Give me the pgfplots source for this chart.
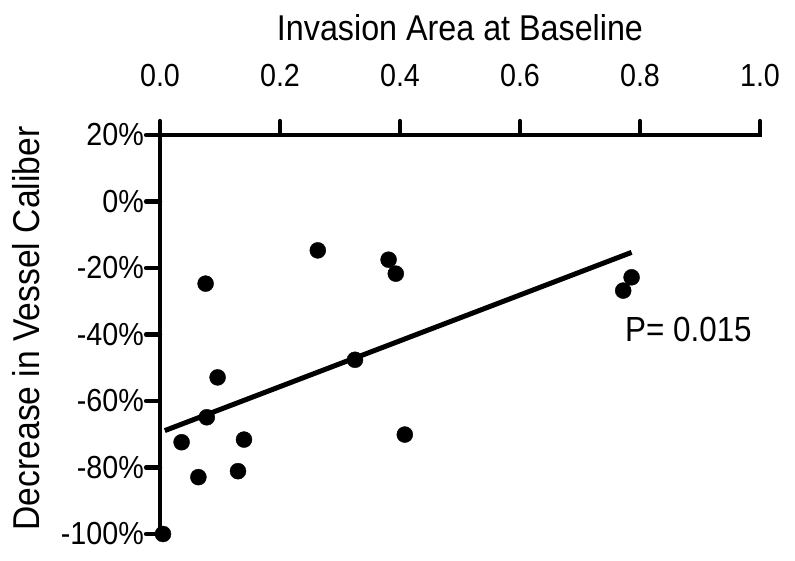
\documentclass[border=0pt]{standalone}
\usepackage{pgfplots}
\pgfplotsset{compat=1.18}
\usepackage{fontspec}
\setmainfont{Liberation Sans}[FakeStretch=0.9]
\begin{document}
\begin{tikzpicture}
\begin{axis}[
  at={(0,0)}, anchor=south west,
  scale only axis, width=600bp, height=399bp,
  xmin=0, xmax=1, ymin=-100, ymax=20,
  axis x line*=top, axis y line*=left,
  axis line style={line width=4.6bp, -, line cap=rect},
  every tick/.style={line width=4.2bp, black, line cap=round},
  tick align=outside, major tick length=14bp,
  xtick={0,0.2,0.4,0.6,0.8,1.0},
  xticklabels={0.0,0.2,0.4,0.6,0.8,1.0},
  ytick={-100,-80,-60,-40,-20,0,20},
  yticklabels={-100\%,-80\%,-60\%,-40\%,-20\%,0\%,20\%},
  ticklabel style={font=\fontsize{32}{38}\selectfont, inner sep=2bp},
  xticklabel style={anchor=base, yshift=34bp},
  xlabel={Invasion Area at Baseline},
  ylabel={Decrease in Vessel Caliber},
  xlabel style={font=\fontsize{36}{42}\selectfont, at={(axis description cs:0.5,1.2356)}, anchor=base},
  ylabel style={font=\fontsize{37.5}{42}\selectfont, at={(axis description cs:-0.2,0.515)}, anchor=base},
  clip=false,
]
\addplot[only marks, mark=*, mark size=8bp, black] coordinates {
(0.005,-100) (0.036,-72.4) (0.064,-82.9) (0.076,-24.7) (0.078,-64.9)
(0.096,-52.9) (0.130,-81.1) (0.140,-71.6) (0.263,-14.7) (0.325,-47.6)
(0.381,-17.5) (0.393,-21.7) (0.408,-70.1) (0.772,-26.8) (0.786,-22.8)
};
\addplot[black, line width=5bp, no marks] coordinates {(0.008,-68.9) (0.786,-15.3)};
\node[anchor=west, font=\fontsize{35}{40}\selectfont, inner sep=0pt] at (axis cs:0.775,-38.6) {P= 0.015};
\end{axis}
\pgfresetboundingbox
\path[use as bounding box] (-160bp,-27bp) rectangle (635bp,534bp);
\end{tikzpicture}
\end{document}
